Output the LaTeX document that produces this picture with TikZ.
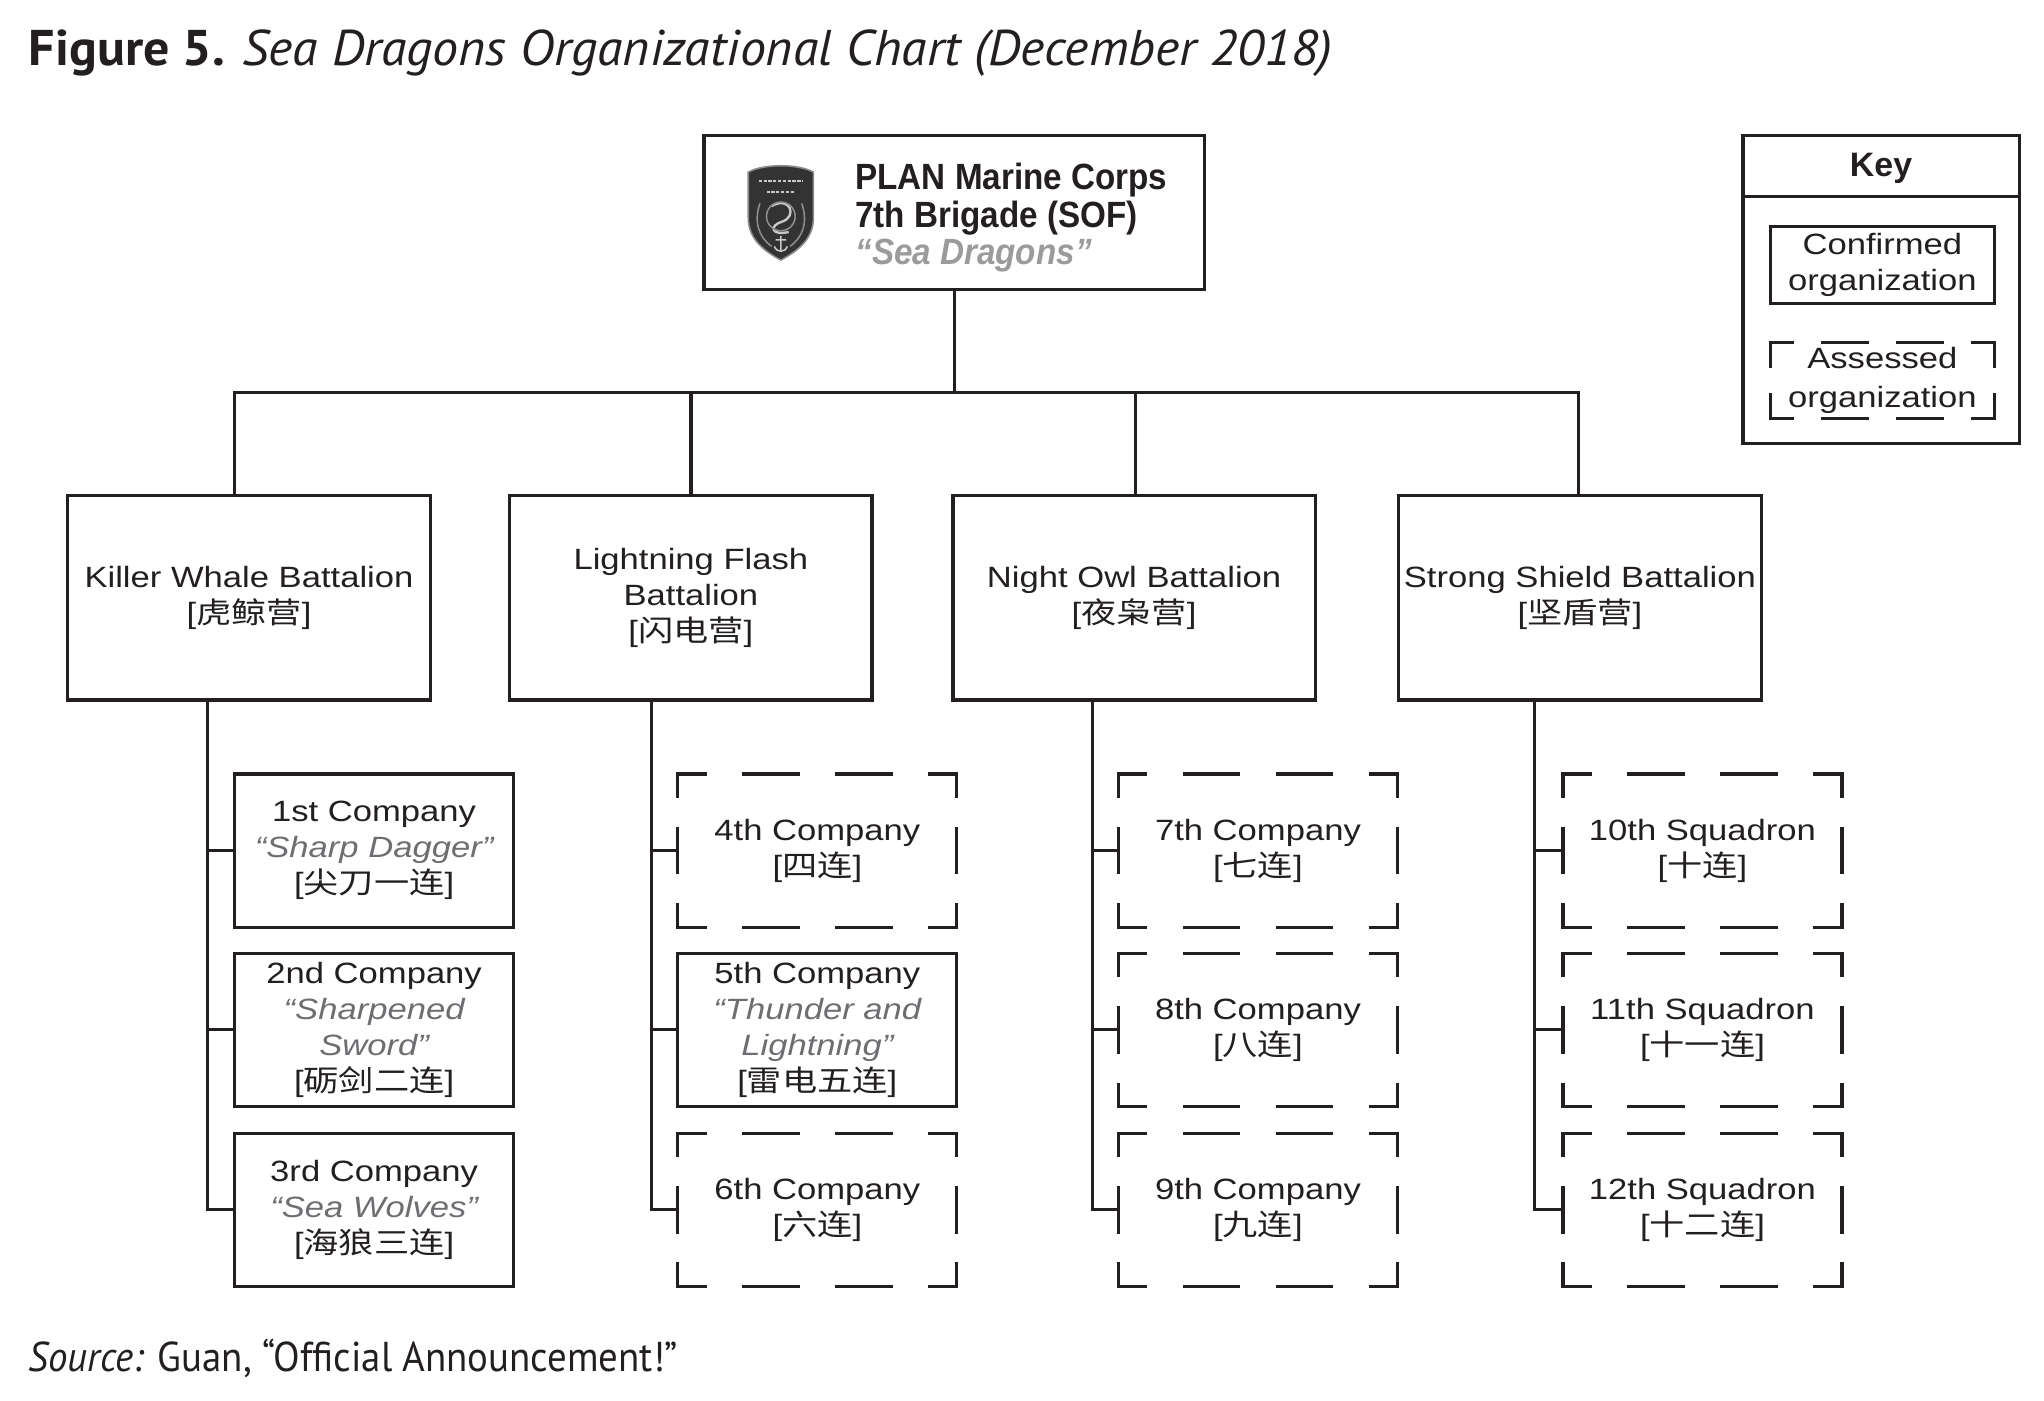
\documentclass[tikz,border=0pt]{standalone}
\usepackage{fontspec}
\usepackage{graphicx}
\setmainfont{Liberation Sans}
\newfontfamily\chartfont[FakeStretch=1.18]{Liberation Sans}
\newfontfamily\topfont[FakeStretch=0.91]{Liberation Sans}
\newfontfamily\cjkfont[FakeStretch=1.2]{Noto Sans CJK SC}
\newfontfamily\capfont{PT Sans}
\definecolor{ink}{HTML}{231F20}
\definecolor{nickgray}{HTML}{6D6E71}
\definecolor{seagray}{HTML}{9B9B9B}
\definecolor{logodark}{HTML}{333333}
\definecolor{logoedge}{HTML}{8C8C8C}
\definecolor{logolight}{HTML}{C8C8C8}
\newcommand\zh[1]{[{\cjkfont #1}]}
\newcommand\nick[1]{{\color{nickgray}\itshape #1}}
\newcommand\assessedbox[3]{%
  \draw[dl,#2] (#1.north west) -- (#1.north east);
  \draw[dl,#2] (#1.south west) -- (#1.south east);
  \draw[dl,#3] (#1.north west) -- (#1.south west);
  \draw[dl,#3] (#1.north east) -- (#1.south east);}
\tikzset{
  ln/.style={draw=ink, line width=2.5pt},
  dl/.style={draw=ink, line width=2.5pt, line cap=rect},
  cdh/.style={dash pattern=on 41.63pt off 29.7pt, dash phase=20.82pt},
  cdv/.style={dash pattern=on 34.05pt off 24.7pt, dash phase=17.03pt},
  kdh/.style={dash pattern=on 34.13pt off 23.2pt, dash phase=17.07pt},
  kdv/.style={dash pattern=on 36.5pt off 21.5pt, dash phase=18.25pt},
  box/.style={draw=ink, line width=2.5pt, outer sep=0pt, inner sep=0pt, align=center,
    text=ink, font=\chartfont\fontsize{22.5}{27.5}\selectfont},
  bat/.style={box, minimum width=278pt, minimum height=157pt},
  co/.style={box, minimum width=214pt, minimum height=117.5pt},
  aco/.style={co, draw=none},
}
\begin{document}
\begin{tikzpicture}[x=1pt, y=-1pt]
\useasboundingbox (0,0) rectangle (1568,1074);

% title and source
\node[anchor=base west, inner sep=0pt, text=ink] (title) at (22,50)
  {\resizebox{1000pt}{\height}{\capfont\fontsize{38.5}{40}\selectfont\bfseries Figure 5. \mdseries\itshape Sea Dragons Organizational Chart (December 2018)}};
\node[anchor=base west, inner sep=0pt, text=ink] (source) at (22,1052)
  {\resizebox{498pt}{\height}{\capfont\fontsize{32}{34}\selectfont\itshape Source:\upshape{} Guan, “Official Announcement!”}};

% top box
\node[box, minimum width=384pt, minimum height=118pt] (plan) at (732,163) {};
\node[anchor=west, align=left, inner sep=0pt, text=ink,
      font=\topfont\bfseries\fontsize{28}{28.5}\selectfont] (plantext) at (656,167)
  {PLAN Marine Corps\\7th Brigade (SOF)\\{\color{seagray}\itshape “Sea Dragons”}};
% badge
\filldraw[fill=logodark, draw=logoedge, line width=1.2pt]
  (574,132) .. controls (586,125.5) and (612,125.5) .. (624,132) -- (624,167)
  .. controls (624,184) and (611,193) .. (599,199.5)
  .. controls (587,193) and (574,184) .. (574,167) -- cycle;
\draw[logolight, line width=1.6pt, dash pattern=on 2.5pt off 1.2pt] (582,139) -- (616,139);
\draw[logolight, line width=1.6pt, dash pattern=on 2.5pt off 1.2pt] (588,147) -- (610,147);
\draw[logolight, line width=1.8pt] (592,158) .. controls (606,150) and (612,166) .. (600,170)
  .. controls (590,173) and (591,181) .. (605,178);
\draw[logoedge, line width=1.2pt] (599,166) circle (11);
\draw[logoedge, line width=1.2pt] (583,156) .. controls (578,170) and (582,182) .. (592,189);
\draw[logoedge, line width=1.2pt] (615,156) .. controls (620,170) and (616,182) .. (606,189);
\draw[logolight, line width=1.2pt] (599,181) -- (599,193) (595,184) -- (603,184)
  (594,189) .. controls (596,194) and (602,194) .. (604,189);

% battalions
\node[bat] (kw) at (191,458.5) {Killer Whale Battalion\\\zh{虎鲸营}};
\node[bat] (lf) at (530,458.5) {Lightning Flash\\Battalion\\\zh{闪电营}};
\node[bat] (no) at (870,458.5) {Night Owl Battalion\\\zh{夜枭营}};
\node[bat] (ss) at (1212,458.5) {Strong Shield Battalion\\\zh{坚盾营}};

% tree links top
\coordinate (b1) at (180,301);
\coordinate (b2) at (530,301);
\coordinate (b3) at (871,301);
\coordinate (b4) at (1211,301);
\draw[ln] (plan.south) -- (plan.south |- b1);
\draw[ln] (b1 |- kw.north) -- (b1) -- (b4) -- (b4 |- ss.north);
\draw[ln] (b2) -- (b2 |- lf.north);
\draw[ln] (b3) -- (b3 |- no.north);

% companies
\node[co]  (c1)  at (287,652.5) {1st Company\\\nick{“Sharp Dagger”}\\\zh{尖刀一连}};
\node[co]  (c2)  at (287,790)   {2nd Company\\\nick{“Sharpened}\\\nick{Sword”}\\\zh{砺剑二连}};
\node[co]  (c3)  at (287,928)   {3rd Company\\\nick{“Sea Wolves”}\\\zh{海狼三连}};
\node[aco] (c4)  at (627,652.5) {4th Company\\\zh{四连}};
\node[co]  (c5)  at (627,790)   {5th Company\\\nick{“Thunder and}\\\nick{Lightning”}\\\zh{雷电五连}};
\node[aco] (c6)  at (627,928)   {6th Company\\\zh{六连}};
\node[aco] (c7)  at (965,652.5) {7th Company\\\zh{七连}};
\node[aco] (c8)  at (965,790)   {8th Company\\\zh{八连}};
\node[aco] (c9)  at (965,928)   {9th Company\\\zh{九连}};
\node[aco] (c10) at (1306,652.5) {10th Squadron\\\zh{十连}};
\node[aco] (c11) at (1306,790)   {11th Squadron\\\zh{十一连}};
\node[aco] (c12) at (1306,928)   {12th Squadron\\\zh{十二连}};
\assessedbox{c4}{cdh}{cdv}
\assessedbox{c6}{cdh}{cdv}
\assessedbox{c7}{cdh}{cdv}
\assessedbox{c8}{cdh}{cdv}
\assessedbox{c9}{cdh}{cdv}
\assessedbox{c10}{cdh}{cdv}
\assessedbox{c11}{cdh}{cdv}
\assessedbox{c12}{cdh}{cdv}

% battalion to company links
\path (kw.south west) ++(107,0) coordinate (v1);
\path (lf.south west) ++(109,0) coordinate (v2);
\path (no.south west) ++(107,0) coordinate (v3);
\path (ss.south west) ++(104,0) coordinate (v4);
\draw[ln] (v1) |- (c3.west);
\draw[ln] (v1 |- c1.west) -- (c1.west);
\draw[ln] (v1 |- c2.west) -- (c2.west);
\draw[ln] (v2) |- (c6.west);
\draw[ln] (v2 |- c4.west) -- (c4.west);
\draw[ln] (v2 |- c5.west) -- (c5.west);
\draw[ln] (v3) |- (c9.west);
\draw[ln] (v3 |- c7.west) -- (c7.west);
\draw[ln] (v3 |- c8.west) -- (c8.west);
\draw[ln] (v4) |- (c12.west);
\draw[ln] (v4 |- c10.west) -- (c10.west);
\draw[ln] (v4 |- c11.west) -- (c11.west);

% key
\node[box, minimum width=212pt, minimum height=236pt] (key) at (1443,222) {};
\coordinate (kdiv) at (1443,151);
\draw[ln] (key.west |- kdiv) -- (key.east |- kdiv);
\node[text=ink, inner sep=0pt, font=\bfseries\fontsize{26}{28}\selectfont] (keytitle) at (1443,129.5) {Key};
\node[box, minimum width=172pt, minimum height=59pt] (keyconf) at (1444,203.5) {Confirmed\\organization};
\node[box, draw=none, minimum width=172pt, minimum height=58pt, font=\chartfont\fontsize{22.5}{30}\selectfont] (keyass) at (1444,292) {Assessed\\organization};
\assessedbox{keyass}{kdh}{kdv}
\end{tikzpicture}
\end{document}
